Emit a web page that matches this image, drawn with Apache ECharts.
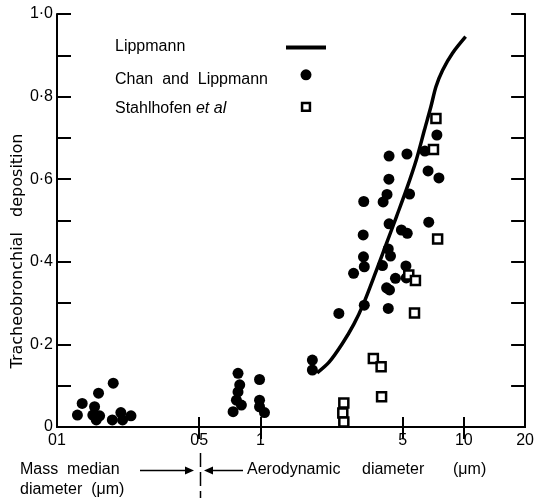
<!DOCTYPE html>
<html>
<head>
<meta charset="utf-8">
<script src="https://cdn.jsdelivr.net/npm/echarts@6/dist/echarts.min.js"></script>
<style>html,body{margin:0;padding:0;background:#fff}#c{width:537px;height:500px}</style>
</head>
<body>
<div id="c"></div>
<script>
// ---- data ----
const lippX = [1.90, 2.175, 2.52, 2.88, 3.22, 3.72, 4.17, 4.66, 5.21, 5.83, 6.40, 6.89, 7.29, 7.86, 8.79, 10.2];
const lippY = [0.131, 0.157, 0.201, 0.249, 0.300, 0.380, 0.445, 0.509, 0.574, 0.646, 0.719, 0.776, 0.824, 0.864, 0.905, 0.945];

const chanX = [0.126, 0.133, 0.160, 0.189, 0.153, 0.150, 0.156, 0.162, 0.187, 0.206, 0.210, 0.231,
  0.776, 0.99, 0.791, 0.776, 0.762, 0.806, 0.734, 0.99, 0.99, 1.047,
  1.80, 1.80, 2.43, 3.24, 4.25, 2.87, 3.21, 3.24, 3.98, 4.25, 4.36, 5.19, 4.61, 5.21, 4.17, 4.31,
  3.20, 4.29, 4.93, 5.27, 6.72, 3.22, 4.01, 4.19, 5.41, 4.28, 6.67, 7.54, 4.29, 5.25, 6.43, 7.37];
const chanY = [0.029, 0.057, 0.082, 0.106, 0.049, 0.029, 0.017, 0.027, 0.017, 0.035, 0.017, 0.027,
  0.130, 0.115, 0.102, 0.085, 0.065, 0.053, 0.037, 0.065, 0.049, 0.035,
  0.162, 0.138, 0.275, 0.295, 0.287, 0.372, 0.412, 0.388, 0.391, 0.431, 0.414, 0.390, 0.360, 0.361, 0.337, 0.332,
  0.465, 0.492, 0.477, 0.469, 0.496, 0.546, 0.545, 0.563, 0.564, 0.600, 0.620, 0.603, 0.656, 0.661, 0.668, 0.707];

const stahlX = [2.57, 2.54, 2.57, 3.59, 3.92, 3.94, 5.36, 5.78, 5.72, 7.43, 7.09, 7.29];
const stahlY = [0.058, 0.034, 0.012, 0.166, 0.146, 0.073, 0.368, 0.355, 0.276, 0.455, 0.672, 0.747];

const xTickValues = [0.5, 1, 5, 10];
const xLabelValues = [0.1, 0.5, 1, 5, 10, 20];
const xLabelTexts = ['01', '05', '1', '5', '10', '20'];

const seriesNames = ['Lippmann', 'Chan and Lippmann', 'Stahlhofen et al'];
const yTitle = 'Tracheobronchial   deposition';
const xTitleLeft1 = 'Mass  median';
const xTitleLeft2 = 'diameter  (\u03bcm)';
const xTitleRightWords = ['Aerodynamic', 'diameter', '(\u03bcm)'];

// ---- chart ----
const FONT = 'Liberation Sans';
const F16 = '16px "' + FONT + '"';
const zip = (xs, ys) => xs.map((x, i) => [x, ys[i]]);
const chart = echarts.init(document.getElementById('c'), null, {renderer: 'canvas'});

const xBase = {
  type: 'log', logBase: 10, min: 0.1, max: 20,
  axisLine: {show: true, lineStyle: {color: '#000', width: 2}},
  splitLine: {show: false},
  minorTick: {show: false}
};
const yBase = {
  type: 'value', min: 0, max: 1, interval: 0.1,
  axisLine: {show: true, lineStyle: {color: '#000', width: 2}},
  splitLine: {show: false},
  axisTick: {show: true, inside: true, length: 14, lineStyle: {color: '#000', width: 2}}
};

const option = {
  animation: false,
  backgroundColor: '#fff',
  grid: {left: 57, right: 7, top: 14, bottom: 73},
  xAxis: [
    Object.assign({}, xBase, {
      position: 'bottom',
      axisTick: {show: true, inside: true, length: 10, customValues: xTickValues, lineStyle: {color: '#000', width: 2}},
      axisLabel: {
        show: true, customValues: xLabelValues, margin: 6, color: '#000', fontSize: 16, fontFamily: FONT,
        formatter: (v) => { const i = xLabelValues.findIndex(t => Math.abs(t - v) < 1e-6 * Math.max(1, t)); return i >= 0 ? xLabelTexts[i] : ''; }
      }
    }),
    Object.assign({}, xBase, {
      position: 'top',
      axisTick: {show: true, inside: true, length: 12, customValues: xTickValues, lineStyle: {color: '#000', width: 2}},
      axisLabel: {show: false}
    })
  ],
  yAxis: [
    Object.assign({}, yBase, {
      position: 'left',
      axisLabel: {
        show: true, margin: 4, color: '#000', fontSize: 16, fontFamily: FONT,
        formatter: (v) => {
          const k = Math.round(v * 10);
          if (k % 2 !== 0) return '';
          if (k === 0) return '0';
          return (k / 10).toFixed(1).replace('.', '\u00b7');
        }
      }
    }),
    Object.assign({}, yBase, {position: 'right', axisLabel: {show: false}})
  ],
  legend: {
    show: true, orient: 'vertical', left: 286, top: 42, padding: 0,
    itemWidth: 40, itemHeight: 11, itemGap: 19.8,
    formatter: () => '',
    textStyle: {fontSize: 1},
    selectedMode: false,
    data: [
      {name: seriesNames[0], icon: 'path://M0,0H40V4H0Z', itemStyle: {color: '#000'}},
      {name: seriesNames[1], icon: 'circle', itemStyle: {color: '#000', opacity: 1}},
      {name: seriesNames[2], icon: 'path://M-2,-2L-2,-2M12,12L12,12M0,0H10V10H0Z', itemStyle: {color: '#fff', borderColor: '#000', borderWidth: 2.5, opacity: 1}}
    ]
  },
  graphic: [
    {type: 'text', left: 115, top: 39, style: {text: seriesNames[0], font: F16, fill: '#000'}},
    {type: 'text', left: 115, top: 72, style: {text: 'Chan  and  Lippmann', font: F16, fill: '#000'}},
    {type: 'text', left: 115, top: 101, style: {
      text: '{n|Stahlhofen }{i|et al}',
      rich: {n: {font: F16, fill: '#000'}, i: {font: 'italic ' + F16, fill: '#000'}}
    }},
    {type: 'text', x: 18, y: 251, rotation: Math.PI / 2,
      style: {text: yTitle, font: '16px "DejaVu Sans"', fill: '#000', align: 'center', verticalAlign: 'middle'}},
    {type: 'text', left: 20, top: 462, style: {text: xTitleLeft1, font: F16, fill: '#000'}},
    {type: 'text', left: 20, top: 482, style: {text: xTitleLeft2, font: F16, fill: '#000'}},
    {type: 'text', left: 247, top: 462, style: {text: xTitleRightWords[0], font: F16, fill: '#000'}},
    {type: 'text', left: 362, top: 462, style: {text: xTitleRightWords[1], font: F16, fill: '#000'}},
    {type: 'text', left: 453, top: 462, style: {text: xTitleRightWords[2], font: F16, fill: '#000'}},
    {type: 'line', shape: {x1: 140, y1: 470.5, x2: 188, y2: 470.5}, style: {stroke: '#000', lineWidth: 1.5}},
    {type: 'polygon', shape: {points: [[194, 470.5], [185, 466.5], [185, 474.5]]}, style: {fill: '#000'}},
    {type: 'line', shape: {x1: 200.5, y1: 453, x2: 200.5, y2: 498}, style: {stroke: '#000', lineWidth: 1.5, lineDash: [14, 5]}},
    {type: 'line', shape: {x1: 211, y1: 470.5, x2: 243, y2: 470.5}, style: {stroke: '#000', lineWidth: 1.5}},
    {type: 'polygon', shape: {points: [[204, 470.5], [213, 466.5], [213, 474.5]]}, style: {fill: '#000'}}
  ],
  series: [
    {
      name: seriesNames[1], type: 'scatter', xAxisIndex: 0, yAxisIndex: 0,
      symbol: 'circle', symbolSize: 11, itemStyle: {color: '#000', opacity: 1},
      data: zip(chanX, chanY), z: 2
    },
    {
      name: seriesNames[0], type: 'line', xAxisIndex: 0, yAxisIndex: 0,
      smooth: 0.3, symbol: 'none', showSymbol: false,
      lineStyle: {color: '#000', width: 3.5}, itemStyle: {color: '#000'},
      data: zip(lippX, lippY), z: 3
    },
    {
      name: seriesNames[2], type: 'scatter', xAxisIndex: 0, yAxisIndex: 0,
      symbol: 'rect', symbolSize: 9,
      itemStyle: {color: '#fff', borderColor: '#000', borderWidth: 2.5, opacity: 1},
      data: zip(stahlX, stahlY), z: 4
    }
  ]
};
chart.setOption(option);
</script>
</body>
</html>
